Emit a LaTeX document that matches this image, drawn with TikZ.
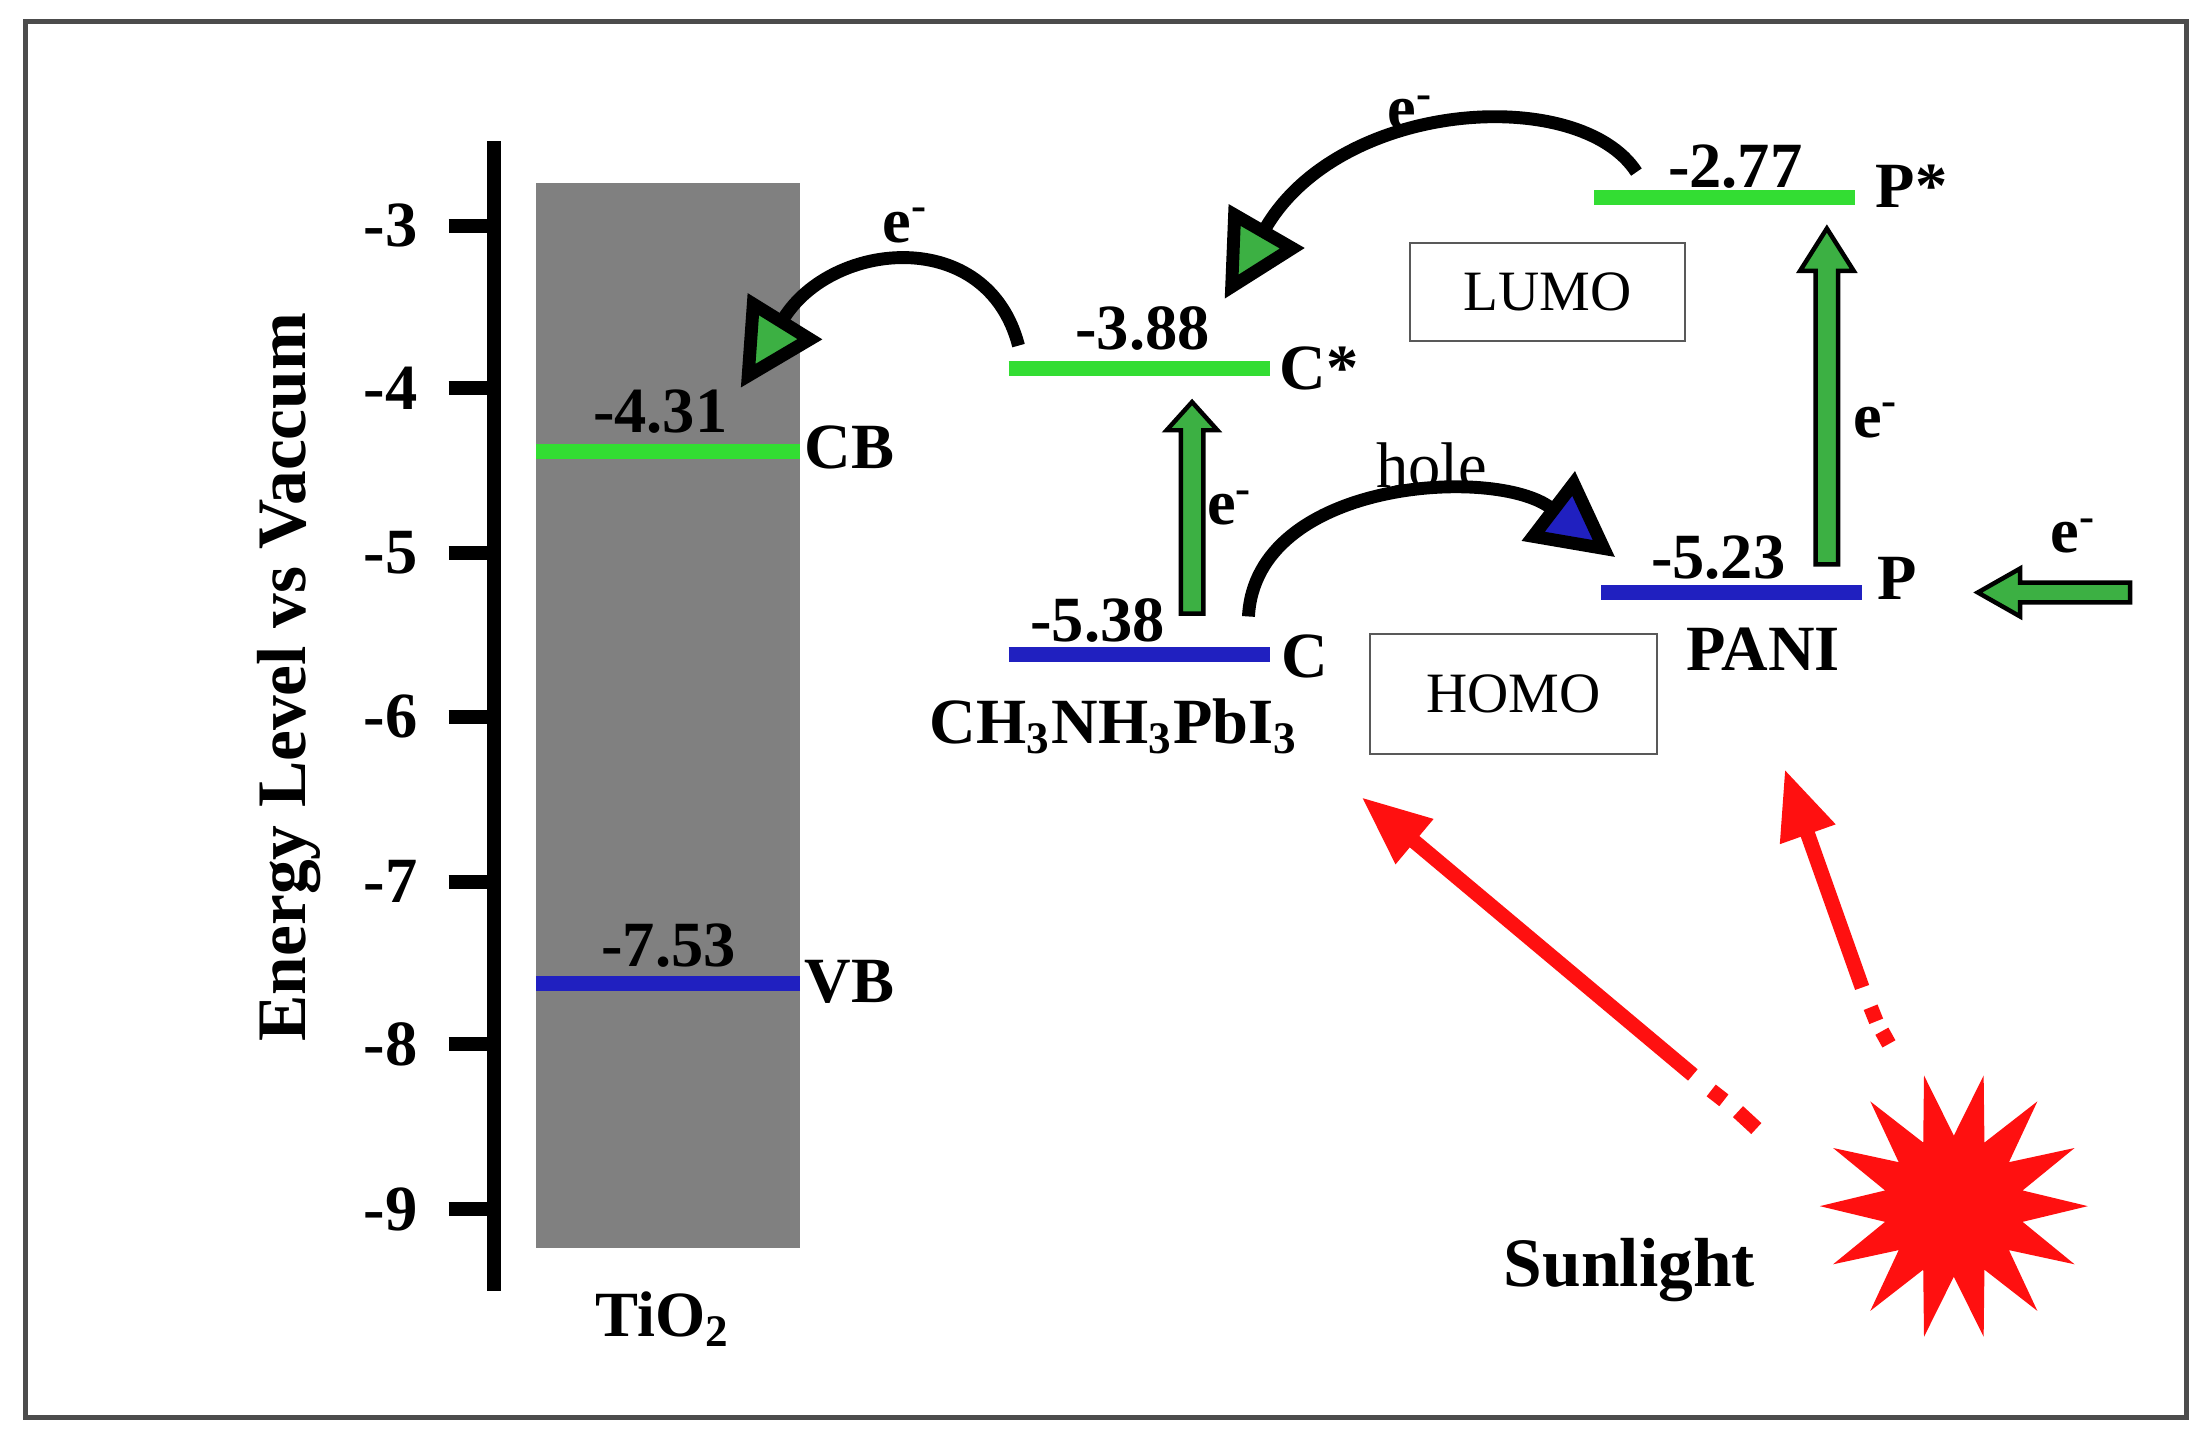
\documentclass[tikz,border=0pt]{standalone}
\usepackage{fontspec}
\setmainfont{Liberation Serif}
\usetikzlibrary{arrows.meta}
\definecolor{lgreen}{HTML}{33DD33}
\definecolor{agreen}{HTML}{3CB043}
\definecolor{lblue}{HTML}{2020C0}
\definecolor{sred}{HTML}{FF1010}
\tikzset{
  lbl/.style={font=\fontsize{13}{15}\selectfont\bfseries, inner sep=1pt},
  plain/.style={font=\fontsize{12}{14}\selectfont, inner sep=1pt},
  lev/.style={line width=3pt},
  boxn/.style={draw=gray!70!black, minimum width=1.95cm, minimum height=0.7cm, font=\fontsize{11.5}{13}\selectfont},
  blk/.style={draw=black, line width=0.9pt, fill=agreen},
  curv/.style={line width=2.6pt, black, -{Triangle[length=17pt,width=17pt,fill=agreen]}},
  redar/.style={sred, line width=3pt, -{Triangle[length=14pt,width=11pt]}},
  redd/.style={sred, line width=3pt},
}
\begin{document}
\begin{tikzpicture}[x=0.01cm,y=-0.01cm]
\useasboundingbox (0,0) rectangle (1568,1028);
\draw[gray!60!black, line width=1pt] (18,15) rectangle (1550,1005);
% axis
\draw[line width=2.8pt] (350,100) -- (350,915);
\foreach \v/\y in {-3/160,-4/275,-5/392,-6/508,-7/625,-8/740,-9/857}{
  \draw[line width=2.8pt] (318,\y) -- (350,\y);
  \node[lbl, anchor=east] at (300,\y) {\v};
}
\node[font=\fontsize{14}{16}\selectfont\bfseries, rotate=90] (ax) at (205,480) {Energy Level vs Vaccum};
% TiO2
\fill[gray] (380,130) rectangle (567,885);
\draw[lev, lgreen] (380,320) -- (567,320);
\draw[lev, lblue] (380,697) -- (567,697);
\node[lbl] (n431) at (468,292) {-4.31};
\node[lbl] (cb) at (602,317) {CB};
\node[lbl] (n753) at (474,670) {-7.53};
\node[lbl] (vb) at (602,696) {VB};
\node[lbl] (tio2) at (470,935) {TiO$_\mathbf{2}$};
% perovskite
\draw[lev, lgreen] (715,261) -- (900,261);
\draw[lev, lblue] (715,464) -- (900,464);
\node[lbl] (n388) at (810,233) {-3.88};
\node[lbl] (cs) at (935,261) {C*};
\node[lbl] (n538) at (778,440) {-5.38};
\node[lbl] (c) at (925,465) {C};
\node[lbl] (mapi) at (790,515) {CH$_\mathbf{3}$NH$_\mathbf{3}$PbI$_\mathbf{3}$};
% PANI
\draw[lev, lgreen] (1130,140) -- (1315,140);
\draw[lev, lblue] (1135,420) -- (1320,420);
\node[lbl] (n277) at (1230,118) {-2.77};
\node[lbl] (ps) at (1355,132) {P*};
\node[lbl] (n523) at (1218,395) {-5.23};
\node[lbl] (p) at (1345,410) {P};
\node[lbl] (pani) at (1250,460) {PANI};
% boxes
\node[boxn] (lumo) at (1097,207) {LUMO};
\node[boxn, minimum width=2.03cm, minimum height=0.85cm] (homo) at (1073,492) {HOMO};
% block arrows
\draw[blk] (837,435) -- (837,305) -- (827,305) -- (845,285) -- (863,305) -- (853,305) -- (853,435) -- cycle;
\draw[blk] (1287,400) -- (1287,192) -- (1276,192) -- (1295,162) -- (1314,192) -- (1303,192) -- (1303,400) -- cycle;
\draw[blk] (1510,413) -- (1432,413) -- (1432,403) -- (1402,420) -- (1432,437) -- (1432,427) -- (1510,427) -- cycle;
\node[lbl] (e1) at (872,360) {e\textsuperscript{-}};
\node[lbl] (e2) at (1330,298) {e\textsuperscript{-}};
\node[lbl] (e3) at (1470,380) {e\textsuperscript{-}};
% curved arrows
\coordinate (a1s) at (722,245);
\coordinate (a1e) at (525,275);
\draw[curv] (a1s) .. controls (700,160) and (590,170) .. (a1e);
\node[lbl] (e4) at (642,160) {e\textsuperscript{-}};
\coordinate (a2s) at (1160,122);
\coordinate (a2e) at (868,212);
\draw[curv] (a2s) .. controls (1120,60) and (950,70) .. (a2e);
\node[lbl] (e5) at (1000,80) {e\textsuperscript{-}};
\coordinate (a3s) at (885,437);
\coordinate (a3e) at (1145,395);
\draw[line width=2.6pt, black, -{Triangle[length=17pt,width=17pt,fill=lblue]}] (a3s) .. controls (890,340) and (1060,330) .. (a3e);
\node[plain, font=\fontsize{13}{15}\selectfont] (hole) at (1015,330) {hole};
% red arrows
\coordinate (r1t) at (1200,762);
\coordinate (r1h) at (965,565);
\draw[redar] (r1t) -- (r1h);
\draw[redd] (1213,773) -- (1222,780);
\draw[redd] (1232,788) -- (1245,800);
\coordinate (r2t) at (1320,700);
\coordinate (r2h) at (1265,545);
\draw[redar] (r2t) -- (r2h);
\draw[redd] (1326,714) -- (1330,724);
\draw[redd] (1334,731) -- (1339,740);
% star
\begin{scope}[shift={(1385,855)}]
\fill[sred] (0:95) \foreach \i in {1,...,27}{ -- (\i*360/28:{95-45*mod(\i,2)}) } -- cycle;
\end{scope}
\node[lbl, font=\fontsize{14}{16}\selectfont\bfseries] (sun) at (1155,900) {Sunlight};
\end{tikzpicture}
\end{document}
